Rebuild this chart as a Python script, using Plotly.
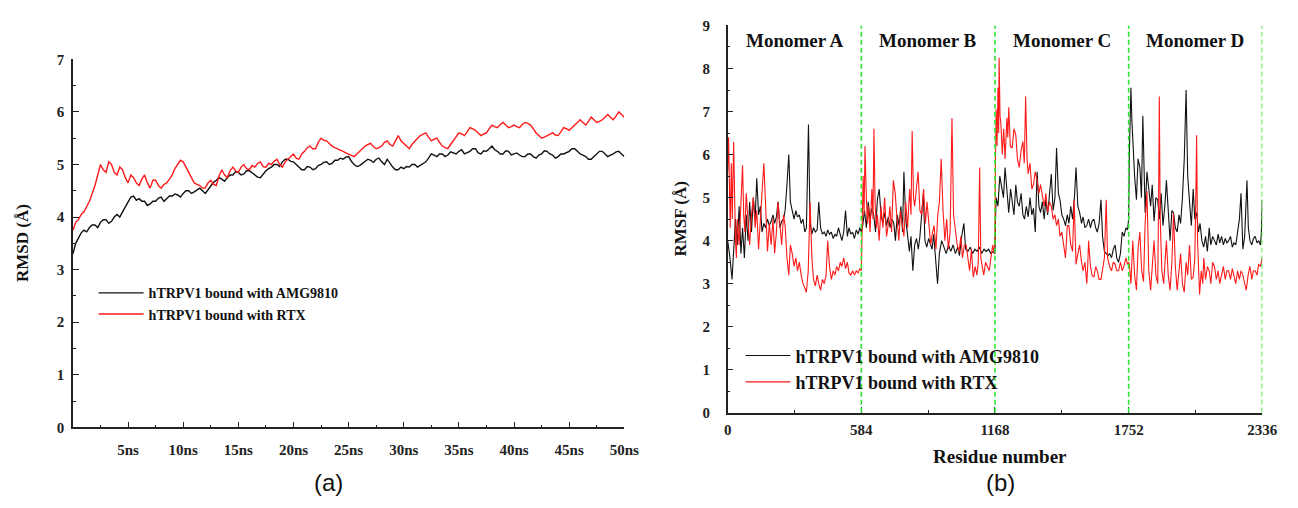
import plotly.graph_objects as go

# ---------------- (a) RMSD data (0 - 50 ns, equally spaced frames) ----------------
rmsd_amg = [3.3, 3.5, 3.6, 3.7, 3.75, 3.72, 3.8, 3.85, 3.85, 3.8, 3.9, 3.95, 3.95, 3.88, 3.92, 4.0, 4.05, 4.0, 4.1, 4.2,
            4.3, 4.38, 4.4, 4.32, 4.35, 4.3, 4.3, 4.22, 4.25, 4.3, 4.3, 4.36, 4.38, 4.3, 4.35, 4.4, 4.4, 4.44, 4.42, 4.38,
            4.45, 4.5, 4.5, 4.45, 4.48, 4.52, 4.55, 4.5, 4.45, 4.52, 4.6, 4.66, 4.7, 4.75, 4.72, 4.68, 4.75, 4.8, 4.8, 4.86,
            4.85, 4.8, 4.82, 4.88, 4.88, 4.84, 4.8, 4.76, 4.75, 4.82, 4.88, 4.92, 4.95, 5.0, 5.0, 4.96, 5.05, 5.1, 5.1, 5.06,
            5.05, 5.0, 4.95, 4.9, 4.9, 4.96, 4.95, 4.9, 4.92, 4.98, 5.0, 5.04, 5.05, 5.0, 5.02, 5.08, 5.08, 5.12, 5.1, 5.14,
            5.15, 5.06, 5.0, 4.96, 4.98, 5.02, 5.05, 5.1, 5.08, 5.04, 5.1, 5.12, 5.05, 5.0, 5.1, 5.02, 4.95, 4.9, 4.9, 4.95,
            4.92, 4.96, 4.95, 5.0, 5.0, 4.95, 4.98, 5.02, 5.05, 5.12, 5.2, 5.18, 5.15, 5.2, 5.2, 5.15, 5.18, 5.24, 5.22, 5.2,
            5.25, 5.28, 5.2, 5.22, 5.25, 5.3, 5.3, 5.22, 5.2, 5.26, 5.25, 5.3, 5.35, 5.28, 5.25, 5.2, 5.2, 5.26, 5.25, 5.18,
            5.2, 5.22, 5.18, 5.15, 5.15, 5.2, 5.2, 5.15, 5.12, 5.18, 5.2, 5.26, 5.25, 5.2, 5.18, 5.12, 5.15, 5.2, 5.2, 5.22,
            5.25, 5.3, 5.3, 5.25, 5.2, 5.18, 5.15, 5.1, 5.1, 5.15, 5.2, 5.25, 5.25, 5.2, 5.15, 5.18, 5.2, 5.24, 5.25, 5.2,
            5.15]
rmsd_rtx = [3.75, 3.9, 3.95, 4.05, 4.1, 4.2, 4.3, 4.45, 4.6, 4.8, 5.0, 4.9, 4.85, 5.05, 5.0, 4.85, 4.8, 4.95, 4.9, 4.75,
            4.65, 4.8, 4.75, 4.65, 4.6, 4.72, 4.8, 4.65, 4.55, 4.7, 4.7, 4.6, 4.55, 4.62, 4.65, 4.72, 4.8, 4.92, 5.0, 5.08,
            5.05, 4.95, 4.85, 4.75, 4.65, 4.62, 4.6, 4.55, 4.55, 4.65, 4.7, 4.62, 4.6, 4.78, 4.9, 4.8, 4.75, 4.88, 4.95, 4.88,
            4.85, 4.95, 5.0, 4.92, 4.9, 4.98, 4.95, 5.02, 5.05, 4.96, 4.95, 5.02, 5.0, 5.06, 5.1, 5.0, 4.95, 5.05, 5.1, 5.14,
            5.2, 5.12, 5.1, 5.2, 5.25, 5.32, 5.35, 5.3, 5.3, 5.42, 5.5, 5.46, 5.45, 5.4, 5.35, 5.32, 5.3, 5.28, 5.25, 5.22,
            5.2, 5.18, 5.15, 5.2, 5.25, 5.3, 5.35, 5.38, 5.4, 5.34, 5.3, 5.32, 5.35, 5.42, 5.45, 5.38, 5.35, 5.45, 5.55, 5.45,
            5.4, 5.35, 5.3, 5.38, 5.45, 5.5, 5.55, 5.58, 5.6, 5.52, 5.45, 5.48, 5.5, 5.42, 5.35, 5.32, 5.3, 5.38, 5.45, 5.52,
            5.6, 5.58, 5.55, 5.62, 5.7, 5.68, 5.65, 5.6, 5.55, 5.58, 5.6, 5.68, 5.75, 5.72, 5.7, 5.76, 5.8, 5.75, 5.7, 5.72,
            5.75, 5.72, 5.7, 5.76, 5.8, 5.78, 5.75, 5.68, 5.6, 5.55, 5.5, 5.52, 5.55, 5.58, 5.6, 5.56, 5.55, 5.62, 5.7, 5.68,
            5.65, 5.7, 5.75, 5.8, 5.85, 5.8, 5.75, 5.82, 5.9, 5.85, 5.8, 5.82, 5.85, 5.9, 5.95, 5.9, 5.85, 5.92, 6.0, 5.95,
            5.9]
time_amg = [50.0 * i / (len(rmsd_amg) - 1) for i in range(len(rmsd_amg))]
time_rtx = [50.0 * i / (len(rmsd_rtx) - 1) for i in range(len(rmsd_rtx))]
time_tick_vals = [5, 10, 15, 20, 25, 30, 35, 40, 45, 50]
time_tick_text = ["5ns", "10ns", "15ns", "20ns", "25ns", "30ns", "35ns", "40ns", "45ns", "50ns"]

# ---------------- (b) RMSF data (residue, RMSF) ----------------
amg_A = [(0, 4.0), (10, 3.6), (19, 3.1), (26, 3.8), (34, 4.5), (42, 3.9), (50, 4.8), (58, 3.7), (65, 4.3), (73, 3.6),
         (81, 4.6), (89, 4.0), (96, 4.9), (104, 4.2), (112, 5.0), (120, 4.5), (127, 5.45), (135, 4.6), (143, 4.8),
         (150, 4.2), (158, 4.4), (166, 4.3), (174, 4.5), (182, 4.35), (190, 4.45), (198, 4.6), (205, 4.4), (213, 4.55),
         (220, 4.9), (228, 4.3), (236, 4.45), (244, 4.5), (251, 4.7), (259, 5.3), (267, 6.0), (274, 4.9), (282, 4.65),
         (290, 4.5), (298, 4.7), (305, 4.55), (313, 4.6), (321, 4.4), (329, 4.5), (337, 4.2), (344, 4.3), (353, 6.7),
         (360, 4.4), (368, 4.15), (375, 4.3), (383, 4.2), (391, 4.25), (398, 4.9), (406, 4.3), (414, 4.15), (422, 4.2),
         (430, 4.1), (437, 4.25), (445, 4.15), (453, 4.2), (461, 4.05), (469, 4.15), (476, 4.1), (484, 4.3), (492, 4.15),
         (499, 4.0), (507, 4.2), (515, 4.7), (523, 4.1), (530, 4.3), (538, 4.15), (546, 4.2), (554, 4.05), (562, 4.25),
         (570, 4.15), (577, 4.3), (584, 4.2)]
amg_B = [(590, 4.35), (598, 4.7), (606, 4.3), (614, 4.9), (622, 4.5), (630, 4.75), (638, 4.6), (646, 4.2), (654, 4.95),
         (662, 5.2), (670, 4.6), (678, 4.4), (686, 4.65), (694, 4.35), (702, 4.55), (710, 4.3), (718, 4.5), (726, 4.4),
         (733, 4.0), (741, 4.6), (749, 4.35), (757, 4.8), (764, 4.2), (770, 5.6), (778, 4.5), (794, 3.75), (801, 4.1),
         (809, 3.3), (817, 3.9), (825, 4.05), (833, 3.8), (840, 4.1), (855, 5.1), (862, 4.0), (870, 3.85), (878, 4.05),
         (886, 3.9), (893, 3.8), (900, 4.15), (917, 3.0), (925, 3.7), (935, 4.0), (945, 3.85), (955, 3.7), (965, 3.9),
         (975, 3.75), (985, 3.9), (995, 3.7), (1005, 3.85), (1013, 3.65), (1021, 4.05), (1032, 4.4), (1040, 3.8),
         (1050, 3.75), (1060, 3.85), (1070, 3.7), (1080, 3.8), (1090, 3.75), (1100, 3.85), (1110, 3.7), (1120, 3.8),
         (1130, 3.75), (1140, 3.8), (1150, 3.7), (1160, 3.75), (1168, 3.7)]
amg_C = [(1170, 4.4), (1173, 5.0), (1181, 4.8), (1189, 5.5), (1197, 5.25), (1205, 5.0), (1212, 5.7), (1220, 5.1),
         (1228, 4.65), (1236, 5.2), (1243, 4.95), (1251, 4.6), (1259, 5.3), (1266, 4.9), (1274, 4.8), (1282, 5.1),
         (1290, 4.6), (1297, 4.5), (1305, 4.8), (1313, 4.55), (1321, 5.0), (1329, 4.6), (1336, 4.75), (1344, 4.2),
         (1352, 5.6), (1360, 4.8), (1367, 4.65), (1375, 4.9), (1383, 4.5), (1390, 4.95), (1398, 4.6), (1406, 5.0),
         (1414, 5.55), (1422, 4.7), (1430, 5.0), (1437, 6.15), (1445, 5.1), (1452, 4.95), (1460, 4.6), (1468, 4.5),
         (1476, 4.35), (1484, 4.6), (1491, 4.4), (1499, 4.8), (1507, 4.5), (1515, 5.0), (1522, 5.7), (1530, 4.8),
         (1538, 4.65), (1546, 4.4), (1553, 4.55), (1561, 4.3), (1569, 4.35), (1577, 4.5), (1585, 4.3), (1592, 4.45),
         (1600, 4.5), (1608, 4.3), (1615, 4.2), (1623, 4.4), (1631, 4.95), (1638, 4.1), (1646, 3.75), (1654, 3.7),
         (1662, 3.65), (1669, 3.7), (1677, 3.6), (1685, 3.8), (1693, 3.9), (1700, 3.6), (1708, 3.5), (1716, 3.7),
         (1724, 4.2), (1732, 4.1), (1740, 4.3), (1747, 4.25), (1752, 4.5)]
amg_D = [(1755, 6.0), (1759, 7.0), (1762, 7.55), (1766, 6.8), (1770, 6.3), (1778, 5.5), (1786, 4.95), (1793, 5.9),
         (1801, 5.7), (1808, 5.0), (1814, 6.9), (1820, 5.4), (1824, 4.65), (1832, 5.6), (1840, 5.25), (1848, 4.8),
         (1855, 5.3), (1863, 4.45), (1871, 5.0), (1879, 4.95), (1886, 4.5), (1894, 5.1), (1902, 4.35), (1910, 4.8),
         (1917, 5.4), (1925, 4.6), (1933, 4.0), (1941, 4.7), (1948, 4.65), (1956, 4.3), (1964, 4.2), (1972, 4.6),
         (1979, 4.4), (1987, 5.0), (1995, 5.9), (2003, 7.5), (2010, 5.5), (2018, 4.9), (2026, 4.35), (2034, 5.2),
         (2041, 4.5), (2049, 4.65), (2057, 4.2), (2064, 4.4), (2072, 4.0), (2080, 3.85), (2088, 4.1), (2096, 3.75),
         (2104, 4.3), (2111, 3.9), (2119, 4.1), (2127, 4.0), (2135, 3.9), (2143, 4.15), (2150, 3.95), (2158, 4.1),
         (2166, 3.9), (2174, 4.05), (2181, 3.95), (2189, 4.0), (2197, 4.1), (2205, 3.85), (2212, 3.95), (2220, 3.9),
         (2228, 4.2), (2236, 4.5), (2243, 5.1), (2251, 3.8), (2259, 4.1), (2269, 5.4), (2275, 4.3), (2282, 4.0),
         (2290, 3.9), (2297, 4.05), (2305, 4.1), (2313, 3.95), (2320, 4.0), (2328, 3.9), (2332, 4.2), (2336, 4.95)]

rtx_A = [(0, 5.6), (4, 6.4), (8, 5.2), (11, 4.3), (16, 5.8), (20, 4.5), (26, 6.3), (30, 4.8), (34, 4.0), (38, 3.6),
         (42, 4.5), (50, 3.9), (57, 5.0), (65, 5.75), (70, 4.6), (75, 4.2), (81, 5.1), (88, 4.4), (96, 3.9), (104, 4.6),
         (112, 5.0), (120, 4.3), (127, 4.7), (135, 3.8), (143, 4.5), (150, 5.0), (158, 5.8), (166, 4.8), (174, 3.75),
         (182, 4.4), (190, 3.9), (198, 4.5), (205, 3.7), (213, 4.2), (220, 4.9), (228, 4.4), (236, 3.9), (244, 4.6),
         (251, 4.35), (259, 3.6), (267, 3.2), (274, 3.9), (282, 3.7), (290, 3.4), (298, 3.6), (305, 3.3), (313, 3.5),
         (321, 3.2), (329, 3.0), (337, 2.9), (344, 2.8), (352, 3.3), (360, 4.9), (368, 3.6), (375, 3.1), (383, 2.95),
         (391, 3.2), (398, 3.0), (406, 2.85), (414, 3.1), (422, 3.0), (430, 3.2), (437, 4.0), (445, 3.4), (453, 3.1),
         (461, 3.3), (469, 3.2), (476, 3.4), (484, 3.3), (492, 3.5), (499, 3.4), (507, 3.6), (515, 3.35), (523, 3.5),
         (530, 3.25), (538, 3.2), (546, 3.3), (554, 3.2), (562, 3.3), (570, 3.25), (577, 3.35), (584, 3.3)]
rtx_B = [(588, 4.4), (592, 5.5), (596, 4.6), (600, 6.2), (606, 5.0), (611, 4.4), (615, 4.8), (622, 4.2), (630, 5.2),
         (635, 4.5), (639, 6.6), (644, 4.9), (650, 4.3), (654, 4.6), (662, 4.0), (670, 4.8), (678, 4.3), (686, 5.0),
         (694, 4.1), (701, 4.35), (709, 4.8), (716, 4.2), (724, 5.4), (732, 5.1), (740, 4.5), (748, 4.0), (755, 4.7),
         (763, 4.35), (770, 4.1), (778, 4.9), (786, 4.3), (795, 5.2), (801, 4.6), (806, 6.55), (812, 5.0), (817, 4.8),
         (825, 5.3), (832, 5.6), (840, 4.7), (848, 4.6), (856, 5.2), (864, 4.4), (871, 4.9), (879, 4.3), (887, 3.9),
         (895, 4.2), (902, 4.35), (910, 3.8), (918, 4.6), (925, 4.9), (933, 5.9), (941, 4.7), (949, 4.0), (957, 4.5),
         (964, 3.8), (972, 4.2), (980, 6.85), (987, 4.6), (995, 4.25), (1003, 3.9), (1011, 3.75), (1019, 4.1),
         (1026, 3.6), (1034, 3.9), (1042, 3.9), (1050, 3.5), (1057, 3.3), (1065, 3.8), (1073, 3.15), (1081, 3.4),
         (1089, 3.2), (1095, 3.5), (1101, 5.7), (1106, 3.6), (1111, 3.45), (1119, 3.2), (1127, 3.5), (1135, 3.4),
         (1143, 3.3), (1150, 3.6), (1158, 3.9), (1165, 3.7), (1168, 4.2)]
rtx_C = [(1170, 5.8), (1173, 7.05), (1177, 6.2), (1181, 7.55), (1184, 6.5), (1186, 8.25), (1190, 6.9), (1194, 6.7),
         (1200, 6.0), (1206, 6.6), (1212, 5.9), (1216, 6.3), (1220, 6.85), (1224, 6.4), (1228, 7.1), (1235, 6.2),
         (1243, 6.15), (1251, 6.6), (1259, 6.45), (1266, 5.9), (1274, 5.7), (1282, 6.1), (1290, 6.3), (1296, 5.8),
         (1302, 7.35), (1308, 5.9), (1313, 5.55), (1321, 5.8), (1329, 5.2), (1336, 5.3), (1344, 5.6), (1352, 5.4),
         (1360, 5.1), (1367, 5.3), (1375, 5.0), (1383, 4.8), (1390, 5.1), (1398, 4.65), (1406, 4.9), (1414, 4.8),
         (1422, 4.5), (1430, 4.6), (1437, 4.35), (1445, 4.5), (1452, 4.1), (1460, 4.2), (1468, 3.9), (1476, 3.6),
         (1484, 4.35), (1491, 4.35), (1499, 3.9), (1507, 3.75), (1514, 4.95), (1518, 3.7), (1522, 3.45), (1530, 3.7),
         (1538, 3.9), (1546, 3.5), (1553, 3.3), (1561, 3.5), (1569, 3.0), (1573, 3.4), (1577, 4.0), (1585, 3.4),
         (1592, 3.2), (1600, 3.15), (1608, 3.4), (1615, 3.3), (1623, 3.1), (1631, 3.1), (1638, 3.3), (1646, 3.6),
         (1654, 4.95), (1660, 3.6), (1669, 3.4), (1677, 3.3), (1685, 3.5), (1693, 3.45), (1700, 3.3), (1708, 3.3),
         (1716, 3.5), (1724, 3.3), (1731, 3.4), (1740, 3.6), (1747, 3.45), (1752, 3.5)]
rtx_D = [(1755, 3.45), (1762, 3.0), (1770, 4.0), (1778, 3.2), (1786, 2.85), (1793, 3.8), (1801, 4.2), (1809, 3.3),
         (1817, 3.05), (1824, 4.4), (1832, 5.15), (1840, 3.3), (1848, 2.85), (1855, 3.5), (1863, 4.0), (1871, 3.2),
         (1879, 3.0), (1883, 5.0), (1886, 7.35), (1890, 4.5), (1897, 3.3), (1905, 3.0), (1912, 3.6), (1917, 4.0),
         (1925, 3.2), (1933, 2.85), (1941, 3.5), (1948, 4.65), (1956, 3.4), (1964, 2.85), (1972, 3.3), (1979, 3.7),
         (1987, 3.0), (1995, 2.8), (2003, 3.5), (2010, 3.2), (2018, 3.9), (2026, 3.1), (2034, 3.15), (2041, 3.6),
         (2046, 5.2), (2049, 6.45), (2053, 4.0), (2057, 3.2), (2062, 2.75), (2069, 3.3), (2076, 3.0), (2080, 3.6),
         (2088, 3.1), (2096, 3.4), (2104, 3.3), (2111, 3.0), (2119, 3.5), (2127, 3.4), (2135, 3.1), (2143, 3.3),
         (2150, 3.0), (2158, 3.2), (2166, 3.4), (2174, 3.1), (2181, 3.3), (2189, 3.3), (2197, 3.1), (2205, 3.35),
         (2212, 3.2), (2220, 3.0), (2228, 3.3), (2236, 3.1), (2243, 3.3), (2251, 3.2), (2259, 3.0), (2266, 2.85),
         (2274, 3.2), (2282, 3.4), (2290, 3.1), (2297, 3.3), (2305, 3.3), (2313, 3.2), (2320, 3.45), (2328, 3.4),
         (2336, 3.6)]

monomer_bounds = [584, 1168, 1752, 2336]
monomer_names = ["Monomer A", "Monomer B", "Monomer C", "Monomer D"]
monomer_label_x = [292, 876, 1460, 2044]
series_names = ["hTRPV1 bound with AMG9810", "hTRPV1 bound with RTX"]

amg_pts = amg_A + amg_B + amg_C + amg_D
rtx_pts = rtx_A + rtx_B + rtx_C + rtx_D

W, H = 1298, 508
SERIF = "Liberation Serif, Times New Roman, serif"
SANS = "Liberation Sans, Arial, sans-serif"


def px_x(p):
    return p / W


def px_y(p):
    return (H - p) / H


fig = go.Figure()
fig.add_trace(go.Scatter(x=time_amg, y=rmsd_amg, mode="lines", name=series_names[0],
                         line=dict(color="#111111", width=1.4), xaxis="x", yaxis="y", legend="legend"))
fig.add_trace(go.Scatter(x=time_rtx, y=rmsd_rtx, mode="lines", name=series_names[1],
                         line=dict(color="#ff1a1a", width=1.4), xaxis="x", yaxis="y", legend="legend"))
fig.add_trace(go.Scatter(x=[p[0] for p in amg_pts], y=[p[1] for p in amg_pts], mode="lines", name=series_names[0],
                         line=dict(color="#111111", width=1.1), xaxis="x2", yaxis="y2", legend="legend2"))
fig.add_trace(go.Scatter(x=[p[0] for p in rtx_pts], y=[p[1] for p in rtx_pts], mode="lines", name=series_names[1],
                         line=dict(color="#ff1a1a", width=1.1), xaxis="x2", yaxis="y2", legend="legend2"))

tickfont = dict(family=SERIF, size=15, color="#222222", weight="bold")
axis_common = dict(showline=True, linecolor="#222222", linewidth=1.5, showgrid=False, zeroline=False,
                   ticks="inside", ticklen=6, tickwidth=1.3, tickcolor="#222222", tickfont=tickfont,
                   mirror=False, fixedrange=True)

shapes = []
for b in monomer_bounds:
    shapes.append(dict(type="line", xref="x2", yref="y2", x0=b, x1=b, y0=0, y1=9,
                       line=dict(color="#2ee62e", width=1.6, dash="5px,3px"), layer="above"))

annotations = []
for name, xm in zip(monomer_names, monomer_label_x):
    annotations.append(dict(text=name, x=xm, y=8.65, xref="x2", yref="y2", showarrow=False,
                            font=dict(family=SERIF, size=19, color="#111111", weight="bold"),
                            xanchor="center", yanchor="middle"))
annotations += [
    dict(text="RMSD (Å)", x=px_x(19), y=px_y(243), xref="paper", yref="paper", showarrow=False, textangle=-90,
         font=dict(family=SERIF, size=17, color="#111111", weight="bold"), xanchor="center", yanchor="middle"),
    dict(text="RMSF (Å)", x=px_x(687), y=px_y(218), xref="paper", yref="paper", showarrow=False, textangle=-90,
         font=dict(family=SERIF, size=17, color="#111111", weight="bold"), xanchor="center", yanchor="middle"),
    dict(text="Residue number", x=px_x(1012), y=px_y(463), xref="paper", yref="paper", showarrow=False,
         font=dict(family=SERIF, size=19, color="#111111", weight="bold"), xanchor="center", yanchor="middle"),
    dict(text="(a)", x=px_x(330), y=px_y(490), xref="paper", yref="paper", showarrow=False,
         font=dict(family=SANS, size=24, color="#111111"), xanchor="center", yanchor="middle"),
    dict(text="(b)", x=px_x(1012), y=px_y(490), xref="paper", yref="paper", showarrow=False,
         font=dict(family=SANS, size=24, color="#111111"), xanchor="center", yanchor="middle"),
]

fig.update_layout(
    width=W, height=H, autosize=False,
    margin=dict(l=0, r=0, t=0, b=0),
    paper_bgcolor="white", plot_bgcolor="white",
    xaxis=dict(domain=[px_x(70), px_x(630)], range=[0, 50], anchor="y",
               tickmode="array", tickvals=time_tick_vals, ticktext=time_tick_text, ticklabelstandoff=8,
               minor=dict(tickmode="linear", tick0=0, dtick=2.5, ticks="inside", ticklen=3, tickcolor="#222222"),
               **axis_common),
    yaxis=dict(domain=[px_y(433), px_y(53)], range=[0, 7], anchor="x",
               tickmode="linear", tick0=0, dtick=1, ticklabelstandoff=4,
               minor=dict(tickmode="linear", tick0=0, dtick=0.5, ticks="inside", ticklen=3, tickcolor="#222222"),
               **axis_common),
    xaxis2=dict(domain=[px_x(735), px_x(1278)], range=[0, 2336], anchor="y2",
                tickmode="array", tickvals=[0] + monomer_bounds, ticklabelstandoff=2,
                minor=dict(tickmode="linear", tick0=0, dtick=292, ticks="inside", ticklen=3, tickcolor="#222222"),
                **axis_common),
    yaxis2=dict(domain=[px_y(418), px_y(18)], range=[0, 9], anchor="x2",
                tickmode="linear", tick0=0, dtick=1, ticklabelstandoff=13,
                minor=dict(tickmode="linear", tick0=0, dtick=0.5, ticks="inside", ticklen=3, tickcolor="#222222"),
                **axis_common),
    legend=dict(x=px_x(91), y=px_y(278), xanchor="left", yanchor="top", bgcolor="rgba(0,0,0,0)",
                font=dict(family=SERIF, size=14, color="#111111", weight="bold"), tracegroupgap=0, itemwidth=45),
    legend2=dict(x=px_x(748), y=px_y(340), xanchor="left", yanchor="top", bgcolor="rgba(0,0,0,0)",
                 font=dict(family=SERIF, size=18, color="#111111", weight="bold"), tracegroupgap=0, itemwidth=45),
    shapes=shapes,
    annotations=annotations,
    showlegend=True,
)

fig.write_html("out.html", config={"displayModeBar": False},
               post_script="document.body.style.margin='0';document.body.style.overflow='hidden';")
